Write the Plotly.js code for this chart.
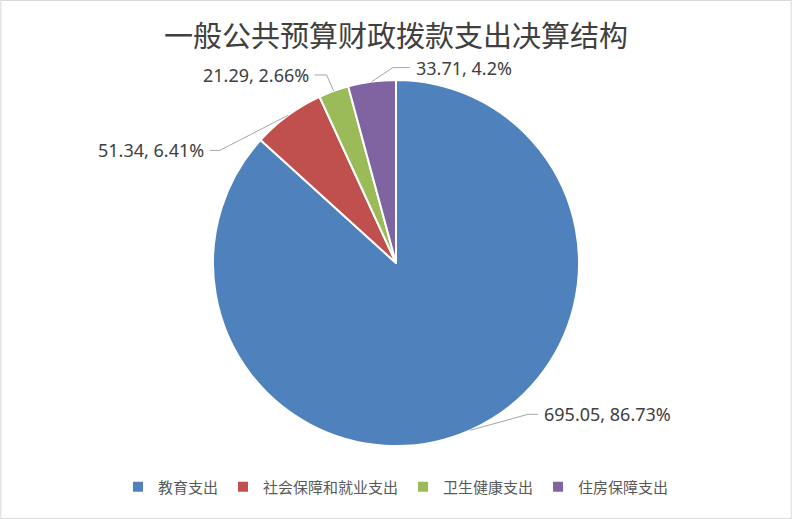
<!DOCTYPE html>
<html>
<head>
<meta charset="utf-8">
<script src="https://cdn.plot.ly/plotly-3.0.1.min.js"></script>
<style>html,body{margin:0;padding:0;background:#fff;}#chart{width:792px;height:519px;}</style>
</head>
<body>
<div id="chart"></div>
<script>
const categories = ['教育支出', '社会保障和就业支出', '卫生健康支出', '住房保障支出'];
const values = [695.05, 51.34, 21.29, 33.71];
const percentLabels = ['86.73%', '6.41%', '2.66%', '4.2%'];
const colors = ['#4F81BD', '#C0504D', '#9BBB59', '#8064A2'];

const W = 792, H = 519;
const cx = 396, cy = 263, R = 183;
const px = x => x / W;
const py = y => 1 - y / H;

// leader-line geometry (offsets from the rim point, in px)
const leader = [
  {dx: 58, dy: -16, len: 10, side: 1},
  {dx: -68, dy: 35, len: -10, side: -1},
  {dx: -7, dy: -16, len: -12, side: -1},
  {dx: 21, dy: -14, len: 17, side: 1}
];

const total = values.reduce((a, b) => a + b, 0);
const shapes = [];
const annotations = [];
let cum = 0;
values.forEach((v, i) => {
  const mid = (cum + v / 2) / total * 2 * Math.PI;
  cum += v;
  const rx = cx + R * Math.sin(mid);
  const ry = cy - R * Math.cos(mid);
  const L = leader[i];
  const ex = rx + L.dx, ey = ry + L.dy;
  const fx = ex + L.len;
  const lineStyle = {color: '#A6A6A6', width: 1};
  shapes.push({type: 'line', xref: 'paper', yref: 'paper', x0: px(rx), y0: py(ry), x1: px(ex), y1: py(ey), line: lineStyle});
  shapes.push({type: 'line', xref: 'paper', yref: 'paper', x0: px(ex), y0: py(ey), x1: px(fx), y1: py(ey), line: lineStyle});
  annotations.push({
    xref: 'paper', yref: 'paper', x: px(fx + 4 * L.side), y: py(ey),
    xanchor: L.side > 0 ? 'left' : 'right', yanchor: 'middle',
    text: values[i] + ', ' + percentLabels[i], showarrow: false,
    font: {family: 'Noto Sans, sans-serif', size: 18, color: '#404040'}
  });
});

shapes.push({type: 'rect', xref: 'paper', yref: 'paper', x0: 0.001, y0: 0.001, x1: 0.999, y1: 0.999,
  line: {color: '#D9D9D9', width: 1}});

const data = [{
  type: 'pie',
  labels: categories,
  values: values,
  sort: false,
  direction: 'clockwise',
  rotation: 0,
  textinfo: 'none',
  marker: {colors: colors, line: {color: '#FFFFFF', width: 2}},
  domain: {x: [px(cx - R), px(cx + R)], y: [py(cy + R), py(cy - R)]},
  hoverinfo: 'label+value+percent'
}];

const layout = {
  width: W, height: H,
  margin: {l: 0, r: 0, t: 0, b: 0},
  paper_bgcolor: '#FFFFFF',
  title: {
    text: '一般公共预算财政拨款支出决算结构',
    font: {family: 'Noto Sans CJK SC, sans-serif', size: 29, color: '#404040'},
    x: 0.5, xanchor: 'center', xref: 'paper',
    y: py(37), yanchor: 'middle', yref: 'paper'
  },
  showlegend: true,
  legend: {
    orientation: 'h', x: 0.5, xanchor: 'center', y: py(487), yanchor: 'middle',
    font: {family: 'Noto Sans CJK SC, sans-serif', size: 15, color: '#595959'},
    itemwidth: 30, traceorder: 'normal'
  },
  shapes: shapes,
  annotations: annotations
};

Plotly.newPlot('chart', data, layout, {displayModeBar: false, staticPlot: true});
</script>
</body>
</html>
